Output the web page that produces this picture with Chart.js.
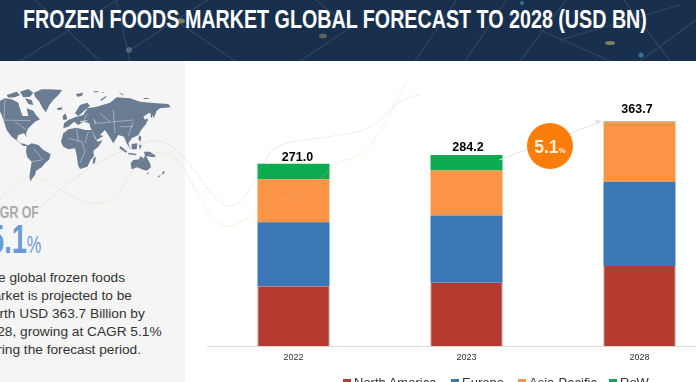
<!DOCTYPE html>
<html>
<head>
<meta charset="utf-8">
<script src="https://cdn.jsdelivr.net/npm/chart.js@4"></script>
<style>
  html, body { margin: 0; padding: 0; width: 696px; height: 382px; overflow: hidden; background: #fff; }
  body { position: relative; font-family: "Liberation Sans", Arial, sans-serif; }
  .banner { position: absolute; left: 0; top: 0; width: 696px; height: 61px; background: #182f4e; overflow: hidden; }
  .banner svg { position: absolute; left: 0; top: 0; }
  .banner h1 {
    position: absolute; left: 23px; top: 4px; margin: 0; white-space: nowrap;
    font: bold 26px "Liberation Sans", sans-serif; color: #fff;
    transform-origin: left center;
  }
  .panel { position: absolute; left: 0; top: 61px; width: 185px; height: 321px; background: #f5f5f5; overflow: hidden; }
  .cagr-of { position: absolute; left: -17.6px; top: 143px; font: bold 16px/18px "Liberation Sans", sans-serif; color: #a9a9a9; white-space: nowrap; transform: scaleX(0.77); transform-origin: left center; }
  .cagr-val { position: absolute; left: -10.7px; top: 155px; font: bold 40px/46px "Liberation Sans", sans-serif; color: #6b9bd6; white-space: nowrap; transform: scaleX(0.68); transform-origin: left center; }
  .cagr-val small { font-size: 24px; font-weight: normal; }
  .blurb { position: absolute; left: -18px; top: 208px; font-size: 13.7px; line-height: 18px; color: #333; white-space: nowrap; }
  #chartBox { position: absolute; left: 207px; top: 61px; width: 519px; height: 321px; }
  .overlay { position: absolute; left: 0; top: 0; pointer-events: none; }
  .legend { position: absolute; top: 375px; left: 0; font-size: 13px; line-height: 15px; color: #333; white-space: nowrap; }
  .legend span.item { position: absolute; top: 0; }
  .legend i { position: absolute; left: -11px; top: 4px; width: 8px; height: 8px; }
</style>
</head>
<body>

<div class="banner">
  <svg width="696" height="61" fill="none">
    <g stroke="#8fa0ad" stroke-opacity="0.2" stroke-width="1.2">
      <path d="M20 61 L125 -5 M30 -5 L100 61 M115 -5 L130 61 M130 50 L215 -5 M175 20 L235 61 M300 61 L350 28 L310 -5"/>
      <path d="M415 61 L460 -5 M465 61 L510 -5 M520 61 L570 -5 M540 30 L610 61 M620 -5 L670 61 M640 61 L696 20 M560 40 L680 5"/>
    </g>
    <g>
      <circle cx="129" cy="50" r="3" fill="#9aa49a" fill-opacity="0.45"/>
      <ellipse cx="181" cy="21" rx="4" ry="2.5" fill="#b9b56a" fill-opacity="0.6"/>
      <ellipse cx="323" cy="36" rx="4" ry="2.5" fill="#b9b56a" fill-opacity="0.4"/>
      <ellipse cx="610" cy="43" rx="5" ry="2" fill="#c7b86a" fill-opacity="0.6"/>
      <circle cx="641" cy="55" r="2.5" fill="#37a9d6" fill-opacity="0.6"/>
      <circle cx="522" cy="3" r="2" fill="#37a9d6" fill-opacity="0.6"/>
    </g>
  </svg>
  <h1 id="title">FROZEN FOODS MARKET GLOBAL FORECAST TO 2028 (USD BN)</h1>
</div>

<div class="panel">
  <div class="cagr-of">CAGR OF</div>
  <div class="cagr-val">5.1<small>%</small></div>
  <div class="blurb">The global frozen foods<br>market is projected to be<br>worth USD 363.7 Billion by<br>2028, growing at CAGR 5.1%<br>during the forecast period.</div>
</div>

<!-- world map outline, just a rough picture -->
<svg class="overlay" width="185" height="200">
  <g transform="translate(0,80) scale(0.3333)">
    <g fill="#6a7c92">
      <path d="M0 62 L15 55 L35 58 L55 68 L58 80 L62 92 L68 108 L85 108 L82 95 L80 85 L100 92 L108 105 L120 118 L105 125 L95 135 L85 145 L78 160 L80 172 L72 160 L55 165 L50 180 L62 190 L75 192 L85 198 L70 198 L55 185 L35 170 L20 150 L12 125 L5 105 L0 95Z"/>
      <path d="M20 45 L50 35 L60 45 L45 52 L25 53Z M60 35 L85 27 L100 38 L90 50 L70 52Z M75 55 L95 60 L100 75 L85 72Z"/>
      <path d="M102 38 L125 28 L150 28 L187 30 L175 45 L160 60 L148 75 L138 97 L128 85 L118 65 L105 50Z"/>
      <path d="M170 85 L185 82 L188 88 L175 91Z M188 108 L197 100 L202 118 L190 120Z"/>
      <path d="M80 198 L95 190 L115 195 L130 210 L152 222 L148 238 L135 250 L125 262 L108 272 L105 285 L95 298 L92 305 L88 290 L92 265 L95 245 L82 232 L78 215Z"/>
      <path d="M190 160 L205 148 L230 143 L255 150 L275 150 L285 175 L293 185 L308 180 L295 200 L280 212 L282 228 L272 240 L262 260 L240 267 L234 255 L230 225 L225 205 L205 208 L190 200 L183 185Z"/>
      <path d="M280 235 L288 230 L285 248 L278 253Z"/>
      <path d="M225 100 L240 75 L262 68 L270 78 L255 90 L245 100 L235 108Z"/>
      <path d="M205 120 L225 112 L250 105 L262 85 L290 80 L330 68 L350 52 L390 55 L420 65 L470 70 L505 72 L512 82 L480 85 L470 92 L462 115 L455 100 L445 100 L430 110 L440 130 L425 148 L415 165 L395 175 L385 190 L392 208 L380 190 L372 170 L355 165 L340 190 L325 165 L315 150 L300 165 L310 168 L290 180 L272 145 L268 130 L250 125 L235 135 L222 125 L205 140 L190 145 L192 130Z"/>
      <path d="M430 125 L440 115 L445 120 L432 135 L420 148 L418 142Z M452 95 L458 100 L456 115 L452 110Z"/>
      <path d="M418 165 L424 172 L422 185 L415 178Z M395 192 L412 190 L410 208 L395 208Z M362 198 L382 215 L378 218 L358 205Z M385 218 L410 222 L408 226 L385 223Z M417 195 L425 195 L420 210Z M432 215 L450 215 L468 228 L462 232 L435 228Z"/>
      <path d="M392 250 L400 240 L418 238 L420 228 L430 235 L437 225 L450 250 L453 262 L440 272 L425 268 L412 262 L395 268Z"/>
      <path d="M440 278 L446 278 L444 284Z M490 272 L495 278 L485 285Z M483 283 L478 292 L472 292Z"/>
      <path d="M228 42 L250 38 L245 48 L232 50Z M280 34 L296 34 L294 37 L282 37Z M304 36 L314 37 L312 39Z M355 35 L372 44 L368 46Z M300 60 L318 48 L320 50 L304 62Z M430 54 L447 54 L445 57 L432 57Z"/>
    </g>
    <g fill="none" stroke="#f5f5f5" stroke-width="1.5" stroke-opacity="0.8">
      <path d="M0 120 L92 122 M15 60 L12 118 M45 125 L80 150 M100 205 L130 240 M95 245 L125 240 M205 175 L245 185 L255 215 L240 250 M230 145 L235 185 M265 155 L255 190 M262 100 L250 125 M290 130 L400 120 M340 90 L345 160 M400 125 L385 168 M300 100 L330 125 M360 140 L400 140"/>
      <path d="M240 125 L262 122 M280 118 L288 128 L283 132" stroke-width="3"/>
    </g>
  </g>
</svg>

<div id="chartBox"><canvas id="chart"></canvas></div>

<!-- faint swirl lines, growth arrow and bubble sit above the bars -->
<svg class="overlay" width="696" height="382" fill="none">
  <path d="M20 230 C40 205 55 195 63 187 C90 165 120 150 143 143 C165 135 180 150 200 178 C215 200 222 207 232 206 C248 200 255 178 268 155 C280 140 295 142 327 137 C350 133 368 132 380 120 C395 103 405 97 420 95" stroke="#a8afb8" stroke-opacity="0.22" stroke-width="1"/>
  <path d="M0 200 C10 185 20 176 30 177 C50 178 70 200 90 203 C105 205 115 198 122 188 C135 165 145 153 160 153 C170 153 178 158 188 175 C205 210 215 226 227 226 C245 226 255 205 293 197 C320 190 325 165 345 160 C365 158 375 140 388 117 C395 103 402 92 407 80" stroke="#e8c98a" stroke-opacity="0.28" stroke-width="1"/>
  <path d="M499 160 L600 122" stroke="#dde1e5" stroke-width="1"/>
  <path d="M602 120.500 L595 120 L597 125Z" fill="#dde1e5"/>
  <circle cx="550" cy="146" r="23" fill="#fb7e0a"/>
  <text x="550" y="152.500" text-anchor="middle" font-family="Liberation Sans" font-weight="bold" fill="#fff3dc" font-size="17.5">5.1<tspan font-size="8">%</tspan></text>
</svg>

<div class="legend" id="legend"></div>

<script>
const categories = ["2022", "2023", "2028"];
const northAmerica = [89, 94, 119];
const europe = [95, 100, 125];
const asiaPacific = [64, 67, 89];
const row = [23, 23.2, 1];
const totalLabels = ["271.0", "284.2", "363.7"];

const seriesNames = ["North America", "Europe", "Asia-Pacific", "RoW"];
const seriesColors = ["#b53b31", "#3a78b5", "#fb9446", "#0cab50"];
const edgeColors = ["#8e2a24", "#3a78b5", "#fb9446", "#0cab50"];
const legendLeft = [354, 462, 529, 620];

// bar heights in the picture do not quite follow the labels, labels sit where they were drawn
const labelNudgeX = [4, 1.5, -2.5];
const labelNudgeY = [1, 0, -5];

const totalsPlugin = {
  id: "totals",
  afterDatasetsDraw(chart) {
    const { ctx } = chart;
    const top = chart.getDatasetMeta(3).data;
    ctx.save();
    ctx.font = "bold 12.5px 'Liberation Sans'";
    ctx.fillStyle = "#000";
    ctx.textAlign = "center";
    ctx.textBaseline = "bottom";
    top.forEach((bar, i) => {
      ctx.fillText(totalLabels[i], bar.x + labelNudgeX[i], bar.y - 1 + labelNudgeY[i]);
    });
    ctx.restore();
  },
};

new Chart(document.getElementById("chart"), {
  type: "bar",
  data: {
    labels: categories,
    datasets: [northAmerica, europe, asiaPacific, row].map((values, i) => ({
      label: seriesNames[i],
      data: values,
      backgroundColor: seriesColors[i],
      borderColor: edgeColors[i],
      borderWidth: i === 0 ? { left: 1, right: 1 } : 0,
      barPercentage: 1,
      categoryPercentage: 0.416,
    })),
  },
  options: {
    responsive: true,
    maintainAspectRatio: false,
    animation: false,
    layout: { padding: 0 },
    scales: {
      x: {
        stacked: true,
        grid: { display: false, drawTicks: false },
        border: { color: "#d9d9d9", width: 1 },
        ticks: { color: "#333", font: { size: 9, family: "Liberation Sans" }, padding: 6, maxRotation: 0 },
        afterFit: (scale) => { scale.height = 36; },
      },
      y: { stacked: true, display: false, min: 0, max: 424 },
    },
    plugins: { legend: { display: false }, tooltip: { enabled: false } },
  },
  plugins: [totalsPlugin],
});

// legend
const legend = document.getElementById("legend");
seriesNames.forEach((name, i) => {
  const item = document.createElement("span");
  item.className = "item";
  item.style.left = legendLeft[i] + "px";
  item.innerHTML = '<i style="background:' + seriesColors[i] + '"></i>' + name;
  legend.appendChild(item);
});

// title has to run 23..647 wide
const title = document.getElementById("title");
title.style.transform = "scaleX(" + 624 / title.offsetWidth + ")";
</script>
</body>
</html>
